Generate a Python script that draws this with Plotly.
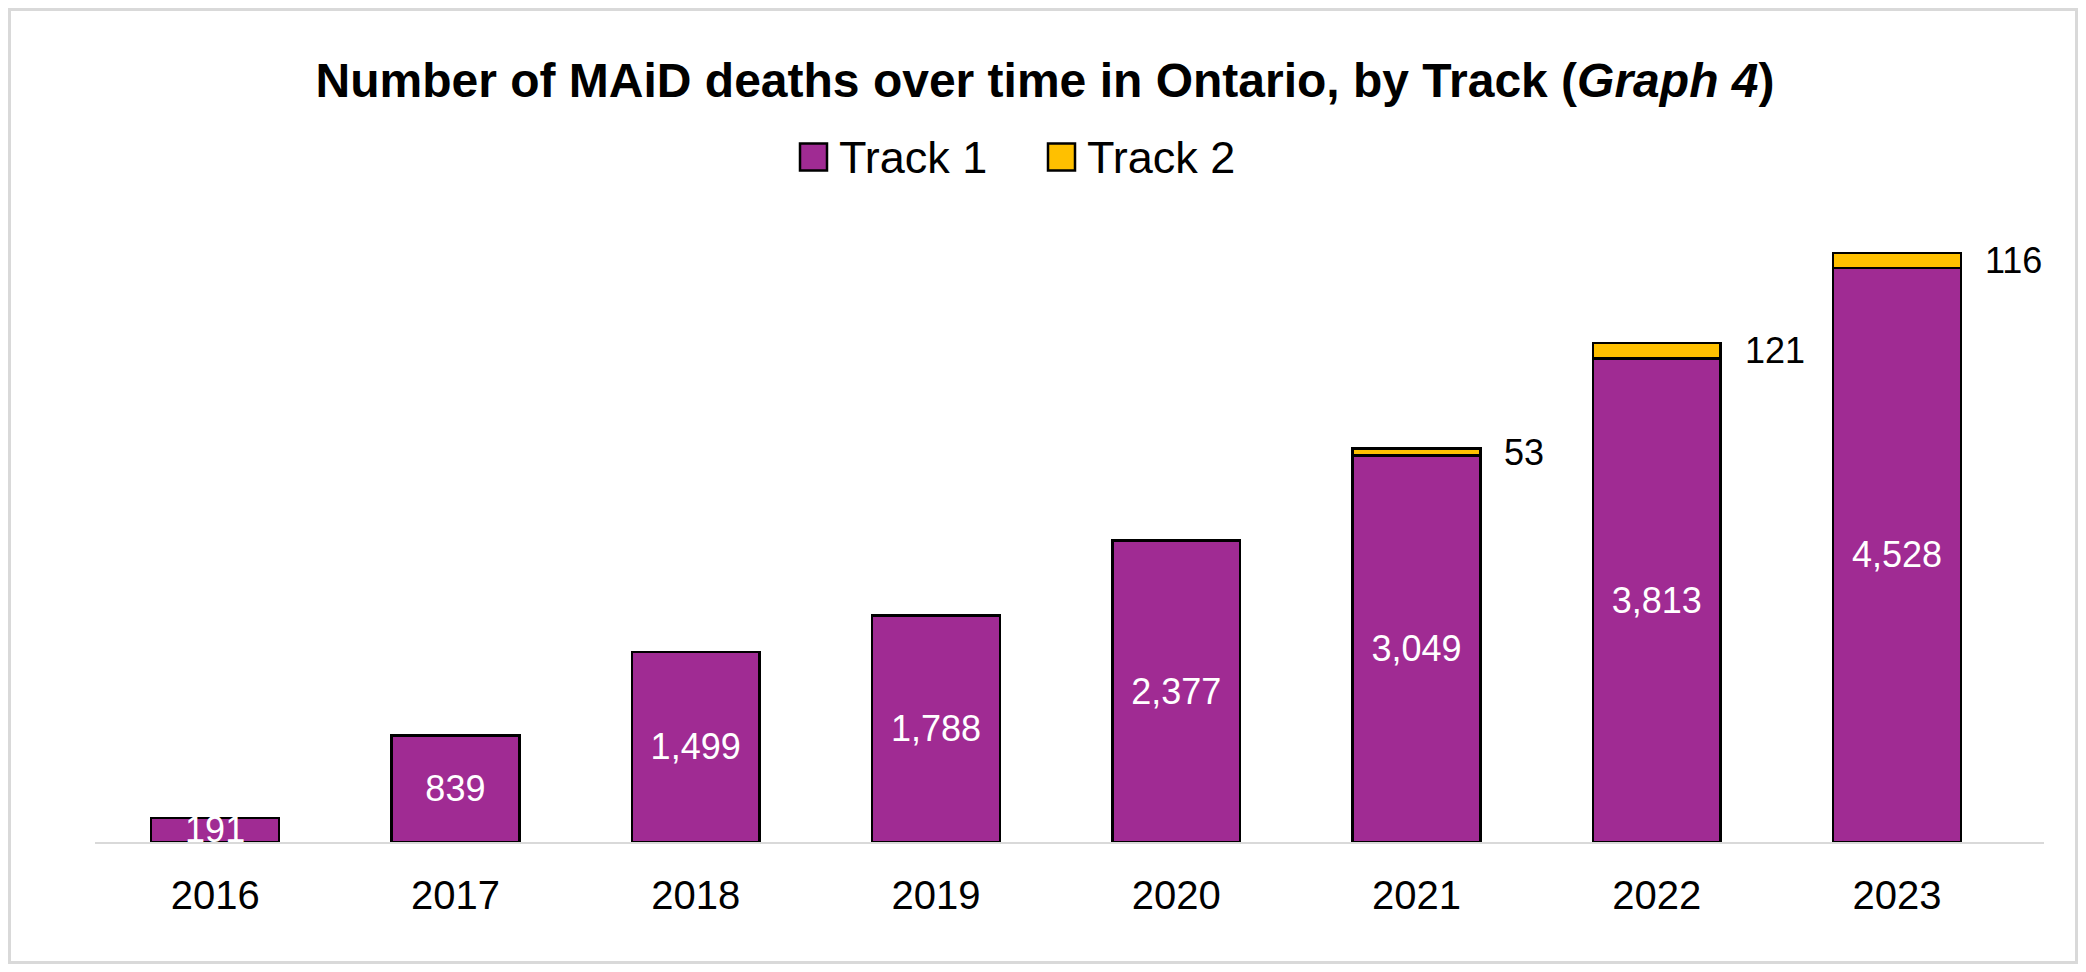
import plotly.graph_objects as go

# ── data ──────────────────────────────────────────────────────────────────────
years  = ["2016", "2017", "2018", "2019", "2020", "2021", "2022", "2023"]
track1 = [191, 839, 1499, 1788, 2377, 3049, 3813, 4528]
track2 = [None, None, None, None, None, 53, 121, 116]
series = ["Track 1", "Track 2"]

PURPLE = "#A02B93"
GOLD   = "#FFC000"
FONT   = "Liberation Sans, Arial, sans-serif"

# page body has an 8px margin, so the figure is made that much smaller
OFF = 8
W, H = 2086 - 2 * OFF, 972 - 2 * OFF
ML, MR, MT, MB = 87, 34, 200, 122
PW, PH = W - ML - MR, H - MT - MB


def px(x):
    # page pixel x -> paper x
    return (x - OFF - ML) / PW


def py(y):
    # page pixel y (from top) -> paper y
    return (H - MB - (y - OFF)) / PH


fig = go.Figure()

fig.add_trace(go.Bar(
    x=years, y=track1, name=series[0],
    marker=dict(color=PURPLE, line=dict(color="black", width=2.5)),
    texttemplate="%{y:,}", textposition="inside", insidetextanchor="middle",
    textangle=0, constraintext="none",
    textfont=dict(color="white", size=36, family=FONT),
    showlegend=False,
))
fig.add_trace(go.Bar(
    x=years, y=track2, name=series[1],
    marker=dict(color=GOLD, line=dict(color="black", width=2.5)),
    showlegend=False,
))

# Track 2 labels to the right of the bar
# (numeric-looking category names would be read as positions, so use the index)
for i, (a, b) in enumerate(zip(track1, track2)):
    if b:
        fig.add_annotation(
            x=i, y=a + b / 2, text=str(b), showarrow=False,
            xanchor="left", yanchor="middle", xshift=86,
            font=dict(size=36, color="black", family=FONT),
        )

# ── legend drawn by hand (big swatches like the original) ─────────────────────
for name, color, sx in [(series[0], PURPLE, 800), (series[1], GOLD, 1048)]:
    fig.add_shape(
        type="rect", xref="paper", yref="paper",
        x0=px(sx), x1=px(sx + 27), y0=py(170.5), y1=py(143.5),
        fillcolor=color, line=dict(color="black", width=2.5),
    )
    fig.add_annotation(
        xref="paper", yref="paper", x=px(sx + 37), y=py(157),
        text=name, showarrow=False, xanchor="left", yanchor="middle",
        font=dict(size=45, color="black", family=FONT),
    )

# outer grey frame
fig.add_shape(
    type="rect", xref="paper", yref="paper",
    x0=px(OFF + 1.5), x1=px(OFF + W - 1.5), y0=py(OFF + H - 1.5), y1=py(OFF + 1.5),
    line=dict(color="#D9D9D9", width=3), fillcolor="rgba(0,0,0,0)",
    layer="below",
)

fig.update_layout(
    width=W, height=H,
    margin=dict(l=ML, r=MR, t=MT, b=MB),
    barmode="stack", bargap=0.468,
    plot_bgcolor="white", paper_bgcolor="white",
    font=dict(family=FONT, color="black"),
    title=dict(
        text="<b>Number of MAiD deaths over time in Ontario, by Track (<i>Graph 4</i>)</b>",
        x=(1045 - OFF) / W, xanchor="center", xref="container",
        y=1 - (80 - OFF) / H, yanchor="middle", yref="container",
        font=dict(size=48, family=FONT, color="black"),
    ),
    xaxis=dict(
        type="category",
        showline=True, linecolor="#D9D9D9", linewidth=2,
        showgrid=False, ticks="", ticklabelstandoff=17,
        tickfont=dict(size=40, family=FONT, color="black"),
    ),
    yaxis=dict(range=[0, 5000], visible=False, showgrid=False),
)

fig.write_html("out.html")
